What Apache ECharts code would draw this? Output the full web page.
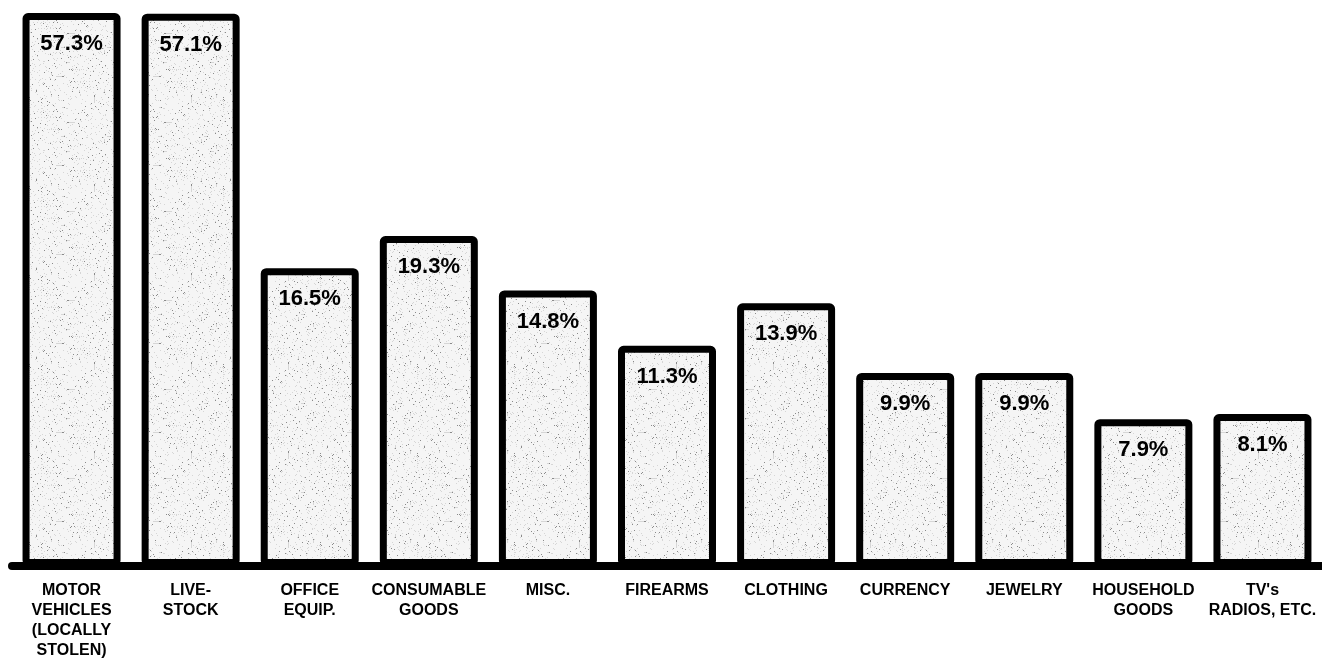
<!DOCTYPE html>
<html>
<head>
<meta charset="utf-8">
<script src="https://cdn.jsdelivr.net/npm/echarts@6/dist/echarts.min.js"></script>
<style>
html,body{margin:0;padding:0;background:#fff;}
#chart{width:1322px;height:661px;}
</style>
</head>
<body>
<div id="chart"></div>
<script>
// Data
const categories = [
  "MOTOR\nVEHICLES\n(LOCALLY\nSTOLEN)",
  "LIVE-\nSTOCK",
  "OFFICE\nEQUIP.",
  "CONSUMABLE\nGOODS",
  "MISC.",
  "FIREARMS",
  "CLOTHING",
  "CURRENCY",
  "JEWELRY",
  "HOUSEHOLD\nGOODS",
  "TV's\nRADIOS, ETC."
];
const percentValues = [57.3, 57.1, 16.5, 19.3, 14.8, 11.3, 13.9, 9.9, 9.9, 7.9, 8.1];

// stippled fill texture (deterministic pattern)
function makeStipple() {
  const c = document.createElement('canvas');
  c.width = 97; c.height = 89;
  const ctx = c.getContext('2d');
  ctx.fillStyle = '#f5f5f5';
  ctx.fillRect(0, 0, c.width, c.height);
  for (let x = 0; x < c.width; x++) {
    for (let y = 0; y < c.height; y++) {
      const h = (x * 73 + y * 151 + x * y * 7) % 101;
      if (h < 2) { ctx.fillStyle = '#8a8a8a'; ctx.fillRect(x, y, 1, 1); }
      else if (h < 8) { ctx.fillStyle = '#d6d6d6'; ctx.fillRect(x, y, 1, 1); }
    }
  }
  return c;
}

const chart = echarts.init(document.getElementById('chart'));
chart.setOption({
  backgroundColor: '#ffffff',
  animation: false,
  grid: { left: 12, right: 0, top: 0, bottom: 95, containLabel: false },
  xAxis: {
    type: 'category',
    data: categories,
    axisLine: { show: true, lineStyle: { color: '#000', width: 8 } },
    axisTick: { show: false },
    axisLabel: {
      interval: 0,
      margin: 15,
      color: '#000',
      fontFamily: 'Liberation Sans, Arial, sans-serif',
      fontWeight: 'bold',
      fontSize: 16,
      lineHeight: 20,
      align: 'center'
    },
    splitLine: { show: false }
  },
  yAxis: {
    type: 'log',
    logBase: 10,
    min: 3.86,
    max: 61.06,
    startValue: 3.86,
    show: false,
    splitLine: { show: false }
  },
  series: [{
    type: 'bar',
    data: percentValues,
    barWidth: 98,
    clip: true,
    itemStyle: {
      color: { image: makeStipple(), repeat: 'repeat' },
      borderColor: '#000',
      borderWidth: 7,
      borderRadius: 2
    },
    label: {
      show: true,
      position: 'insideTop',
      distance: 20,
      color: '#000',
      fontFamily: 'Liberation Sans, Arial, sans-serif',
      fontWeight: 'bold',
      fontSize: 22,
      formatter: p => p.value.toFixed(1) + '%'
    }
  }]
});
</script>
</body>
</html>
